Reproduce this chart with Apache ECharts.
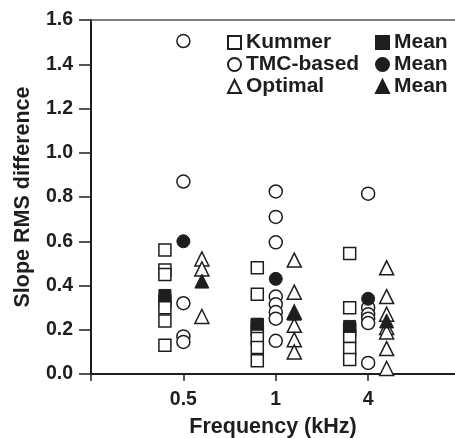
<!DOCTYPE html>
<html>
<head>
<meta charset="utf-8">
<script src="https://cdn.jsdelivr.net/npm/echarts@6/dist/echarts.min.js"></script>
<style>html,body{margin:0;padding:0;background:#fff}#c{width:455px;height:438px}</style>
</head>
<body>
<div id="c"></div>
<script>
const categories = ['0.5', '1', '4'];
const yTicks = [0, 0.2, 0.4, 0.6, 0.8, 1.0, 1.2, 1.4, 1.6];
const kummer = [
  [0.56, 0.47, 0.45, 0.33, 0.30, 0.24, 0.13],
  [0.48, 0.36, 0.22, 0.20, 0.16, 0.12, 0.06],
  [0.545, 0.30, 0.20, 0.17, 0.115, 0.065]
];
const kummerMean = [0.355, 0.225, 0.215];
const tmc = [
  [1.505, 0.87, 0.32, 0.17, 0.145],
  [0.825, 0.71, 0.595, 0.35, 0.315, 0.28, 0.25, 0.15],
  [0.815, 0.30, 0.27, 0.25, 0.23, 0.05]
];
const tmcMean = [0.60, 0.43, 0.34];
const optimal = [
  [0.52, 0.475, 0.26],
  [0.515, 0.37, 0.28, 0.22, 0.155, 0.10],
  [0.48, 0.35, 0.27, 0.21, 0.19, 0.115, 0.025]
];
const optimalMean = [0.42, 0.275, 0.24];

const FONT = "'Liberation Sans', Arial, Helvetica, sans-serif";
const INK = '#1e1e1e';

function pts(groups, off) {
  const out = [];
  groups.forEach((g, i) => g.forEach(v => out.push([i + 1 + off, v])));
  return out;
}
function meanPts(arr, off) { return arr.map((v, i) => [i + 1 + off, v]); }

const openStyle = { color: '#fff', borderColor: INK, borderWidth: 1.5, opacity: 1 };
const fillStyle = { color: INK, borderColor: INK, borderWidth: 1, opacity: 1 };

const series = [
  { name: 'Kummer', type: 'scatter', symbol: 'rect', symbolSize: 12, itemStyle: openStyle, data: pts(kummer, -0.2), z: 2 },
  { name: 'TMC-based', type: 'scatter', symbol: 'circle', symbolSize: 13, itemStyle: openStyle, data: pts(tmc, 0), z: 2 },
  { name: 'Optimal', type: 'scatter', symbol: 'triangle', symbolSize: 14, itemStyle: openStyle, data: pts(optimal, 0.2), z: 2 },
  { name: 'Kummer Mean', type: 'scatter', symbol: 'rect', symbolSize: 12, itemStyle: fillStyle, data: meanPts(kummerMean, -0.2), z: 3 },
  { name: 'TMC-based Mean', type: 'scatter', symbol: 'circle', symbolSize: 13, itemStyle: fillStyle, data: meanPts(tmcMean, 0), z: 3 },
  { name: 'Optimal Mean', type: 'scatter', symbol: 'triangle', symbolSize: 14, itemStyle: fillStyle, data: meanPts(optimalMean, 0.2), z: 3 }
];

const legendText = { fontFamily: FONT, fontWeight: 'bold', fontSize: 21, lineHeight: 21, color: INK };

const chart = echarts.init(document.getElementById('c'), null, { renderer: 'canvas' });
chart.setOption({
  animation: false,
  grid: { left: 91, right: 0, top: 20, bottom: 64, containLabel: false, outerBoundsMode: 'none' },
  legend: [
    { data: ['Kummer', 'TMC-based', 'Optimal'], orient: 'vertical', left: 227, top: 32, padding: 0,
      itemWidth: 13, itemHeight: 13, itemGap: 1, textStyle: legendText, selectedMode: false },
    { data: ['Kummer Mean', 'TMC-based Mean', 'Optimal Mean'], orient: 'vertical', left: 375, top: 32, padding: 0,
      itemWidth: 13, itemHeight: 13, itemGap: 1, textStyle: legendText, selectedMode: false,
      formatter: () => 'Mean' }
  ],
  xAxis: [
    { type: 'value', min: 0, max: 3.94,
      name: 'Frequency (kHz)', nameLocation: 'middle', nameGap: 42,
      nameTextStyle: { fontFamily: FONT, fontWeight: 'bold', fontSize: 21.5, color: INK },
      axisLine: { show: true, lineStyle: { color: INK, width: 2 } },
      axisTick: { show: true, length: 7, lineStyle: { color: INK, width: 1.5 }, customValues: [0, 1, 2, 3] },
      axisLabel: { fontFamily: FONT, fontWeight: 'bold', fontSize: 19.5, color: INK, margin: 16,
        customValues: [1, 2, 3], formatter: v => categories[Math.round(v) - 1] || '' },
      splitLine: { show: false } },
    { type: 'value', position: 'top', min: 0, max: 3.94,
      axisLine: { show: true, lineStyle: { color: '#555', width: 1.5 } },
      axisTick: { show: false }, axisLabel: { show: false }, splitLine: { show: false } }
  ],
  yAxis: {
    type: 'value', min: 0, max: 1.6, interval: 0.2,
    name: 'Slope RMS difference', nameLocation: 'middle', nameGap: 57,
    nameTextStyle: { fontFamily: FONT, fontWeight: 'bold', fontSize: 21.5, color: INK },
    axisLine: { show: true, lineStyle: { color: INK, width: 2 } },
    axisTick: { show: true, length: 12, lineStyle: { color: INK, width: 1.5 } },
    axisLabel: { fontFamily: FONT, fontWeight: 'bold', fontSize: 19.5, color: INK, margin: 18,
      formatter: v => yTicks.includes(Math.round(v * 10) / 10) ? v.toFixed(1) : '' },
    splitLine: { show: false }
  },
  series: series
});
</script>
</body>
</html>
